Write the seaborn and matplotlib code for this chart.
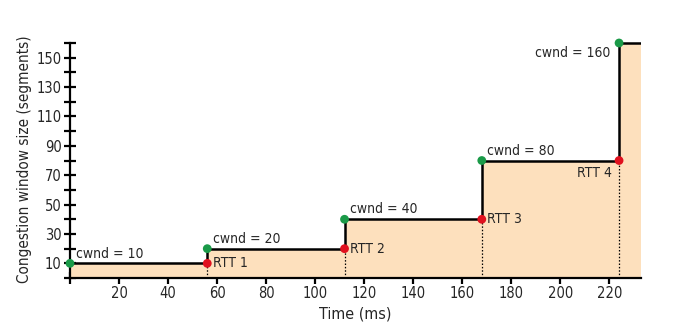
import matplotlib
matplotlib.use("Agg")
import matplotlib.pyplot as plt
import seaborn as sns
import pandas as pd

# Data
step_times = [0, 56, 112, 168, 224]
cwnd = [10, 20, 40, 80, 160]
rtt_times = [56, 112, 168, 224]
rtt_cwnd = [10, 20, 40, 80]
rtt_labels = ["RTT 1", "RTT 2", "RTT 3", "RTT 4"]
cwnd_labels = ["cwnd = 10", "cwnd = 20", "cwnd = 40", "cwnd = 80", "cwnd = 160"]
x_end = 233
x_ticks = [0, 20, 40, 60, 80, 100, 120, 140, 160, 180, 200, 220]
y_ticks = list(range(0, 161, 10))
y_labels = [str(v) if v % 20 == 10 else "" for v in y_ticks]

sns.set_theme(style="white")
plt.rcParams['font.family'] = ['DejaVu Sans']
plt.rcParams['font.stretch'] = 'condensed'

fig = plt.figure(figsize=(6.77, 3.31), dpi=100)
ax = fig.add_axes([0.1034, 0.16, 0.8436, 0.719])

line_df = pd.DataFrame({"t": step_times + [x_end], "w": cwnd + [cwnd[-1]]})
ax.fill_between(line_df["t"], 0, line_df["w"], step="post", color="#fde0bd", lw=0, zorder=1)
sns.lineplot(data=line_df, x="t", y="w", drawstyle="steps-post", color="black", lw=1.8, ax=ax, zorder=3)

for t, w in zip(rtt_times, rtt_cwnd):
    ax.plot([t, t], [0, w], color="black", ls=(0, (1.2, 1.5)), lw=0.9, zorder=2)

sns.scatterplot(x=step_times, y=cwnd, color="#1a9a48", s=40, edgecolor="none", ax=ax, zorder=5, clip_on=False)
sns.scatterplot(x=rtt_times, y=rtt_cwnd, color="#e0101e", s=40, edgecolor="none", ax=ax, zorder=5, clip_on=False)

fs = 10
for i, (t, w, lab) in enumerate(zip(step_times, cwnd, cwnd_labels)):
    if i == len(step_times) - 1:
        ax.annotate(lab, (t, w), xytext=(-6, -2), textcoords="offset points",
                    ha="right", va="top", fontsize=fs)
    else:
        ax.annotate(lab, (t, w), xytext=(4, 2), textcoords="offset points",
                    ha="left", va="bottom", fontsize=fs)
for i, (t, w, lab) in enumerate(zip(rtt_times, rtt_cwnd, rtt_labels)):
    if i == len(rtt_times) - 1:
        ax.annotate(lab, (t, w), xytext=(-5, -4), textcoords="offset points",
                    ha="right", va="top", fontsize=fs)
    else:
        ax.annotate(lab, (t, w), xytext=(4, 0), textcoords="offset points",
                    ha="left", va="center", fontsize=fs)

ax.set_xlim(0, x_end)
ax.set_ylim(0, 162)
ax.set_xticks(x_ticks)
ax.set_xticklabels(["" if v == 0 else str(v) for v in x_ticks])
ax.set_yticks(y_ticks)
ax.set_yticklabels(y_labels)
ax.tick_params(axis="both", direction="inout", length=8, width=1.6, color="black",
               labelsize=10.5, pad=2, left=True, bottom=True)
for s in ["top", "right"]:
    ax.spines[s].set_visible(False)
for s in ["left", "bottom"]:
    ax.spines[s].set_color("black")
    ax.spines[s].set_linewidth(1.6)
ax.spines["left"].set_bounds(0, 160)
ax.set_xlabel("Time (ms)", fontsize=11.5, labelpad=4)
ax.set_ylabel("Congestion window size (segments)", fontsize=11, labelpad=3)

fig.savefig("out.png", dpi=100)
